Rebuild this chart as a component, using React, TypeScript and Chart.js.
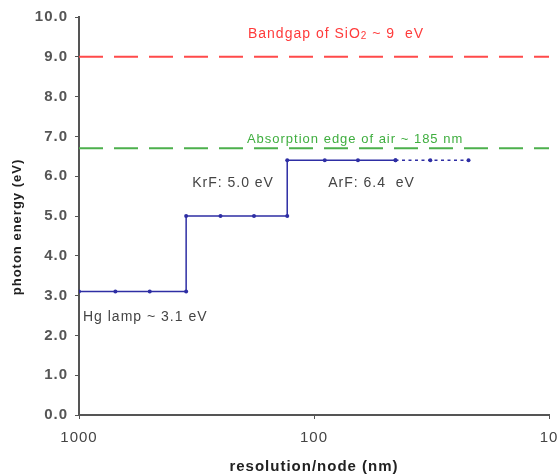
import React, { useEffect, useRef } from "react";
import { Chart, registerables } from "chart.js";

Chart.register(...registerables);

// ---- data ----
const hgNodes = [1000, 700, 500, 350];
const hgEnergy = 3.1;
const krfNodes = [350, 250, 180, 130];
const krfEnergy = 5.0;
const arfNodes = [130, 90, 65, 45];
const arfEnergy = 6.4;
const futureNodes = [45, 32, 22];
const sio2Bandgap = 9.0;
const airEdge = 6.7;
const lineSpan = [1000, 10];
const xTicks = [1000, 100, 10];

const FONT = "'Liberation Sans', Arial, sans-serif";

const stepData = [
  ...hgNodes.map((x) => ({ x, y: hgEnergy })),
  ...krfNodes.map((x) => ({ x, y: krfEnergy })),
  ...arfNodes.map((x) => ({ x, y: arfEnergy })),
];
const futureData = futureNodes.map((x) => ({ x, y: arfEnergy }));

const spacingPlugin = {
  id: "spacing",
  beforeDraw(chart: any) {
    chart.ctx.letterSpacing = "1px";
  },
  afterDraw(chart: any) {
    chart.ctx.letterSpacing = "0px";
  },
};

const labelsPlugin = {
  id: "labels",
  afterDatasetsDraw(chart: any) {
    const { ctx, scales } = chart;
    const xs = scales.x;
    const ys = scales.y;
    const P = (x: number, y: number) => [xs.getPixelForValue(x), ys.getPixelForValue(y)];
    ctx.save();
    ctx.letterSpacing = "1px";
    ctx.textBaseline = "middle";
    ctx.textAlign = "left";
    ctx.font = `14px ${FONT}`;

    // Bandgap of SiO2
    let [x, y] = P(191, 9.58);
    ctx.fillStyle = "#ff3b3b";
    const t1 = "Bandgap of SiO";
    ctx.fillText(t1, x, y);
    let w = ctx.measureText(t1).width;
    ctx.font = `10px ${FONT}`;
    ctx.fillText("2", x + w, y + 3);
    w += ctx.measureText("2").width;
    ctx.font = `14px ${FONT}`;
    ctx.fillText(" ~ 9  eV", x + w, y);

    // Absorption edge
    [x, y] = P(193, 6.93);
    ctx.font = `13px ${FONT}`;
    ctx.fillStyle = "#3fae3f";
    ctx.fillText("Absorption edge of air ~ 185 nm", x, y);

    ctx.font = `14px ${FONT}`;
    ctx.fillStyle = "#444";
    [x, y] = P(330, 5.83);
    ctx.fillText("KrF: 5.0 eV", x, y);
    [x, y] = P(87, 5.83);
    ctx.fillText("ArF: 6.4  eV", x, y);
    [x, y] = P(962, 2.46);
    ctx.fillText("Hg lamp ~ 3.1 eV", x, y);

    // y-axis title
    ctx.translate(17, 227);
    ctx.rotate(-Math.PI / 2);
    ctx.textAlign = "center";
    ctx.fillStyle = "#222";
    ctx.font = `bold 13px ${FONT}`;
    ctx.fillText("photon energy (eV)", 0, 0);
    ctx.restore();
  },
};

export default function App() {
  const ref = useRef<HTMLCanvasElement>(null);
  useEffect(() => {
    const chart = new Chart(ref.current!, {
      type: "line",
      data: {
        datasets: [
          {
            data: lineSpan.map((x) => ({ x, y: sio2Bandgap })),
            borderColor: "#ff4a4a",
            borderWidth: 2,
            borderDash: [24, 11],
            pointRadius: 0,
          },
          {
            data: lineSpan.map((x) => ({ x, y: airEdge })),
            borderColor: "#4cb04c",
            borderWidth: 2,
            borderDash: [24, 11],
            pointRadius: 0,
          },
          {
            data: stepData,
            borderColor: "#2e2ea4",
            backgroundColor: "#2e2ea4",
            borderWidth: 1.5,
            pointRadius: 2,
            pointBorderWidth: 0,
          },
          {
            data: futureData,
            borderColor: "#2e2ea4",
            backgroundColor: "#2e2ea4",
            borderWidth: 1.5,
            borderDash: [3, 3.5],
            pointRadius: 2,
            pointBorderWidth: 0,
          },
        ],
      },
      options: {
        animation: false,
        responsive: false,
        layout: { padding: { top: 17, right: 11, left: 0, bottom: 0 } },
        plugins: { legend: { display: false }, tooltip: { enabled: false } },
        scales: {
          x: {
            type: "logarithmic",
            min: 10,
            max: 1000,
            reverse: true,
            afterBuildTicks: (s: any) => {
              s.ticks = xTicks.map((v) => ({ value: v }));
            },
            afterFit: (s: any) => {
              s.height = 59;
              s.paddingLeft = 0;
              s.paddingRight = 0;
            },
            ticks: {
              callback: (v: any) => String(v),
              color: "#444",
              font: { family: FONT, size: 15 },
              padding: 10,
              maxRotation: 0,
              autoSkip: false,
            },
            grid: { drawOnChartArea: false, tickLength: 4, color: "#555" },
            border: { color: "#555", width: 2 },
            title: {
              display: true,
              text: "resolution/node (nm)",
              color: "#222",
              font: { family: FONT, size: 15, weight: "bold" },
              padding: { top: 0, bottom: -2 },
            },
          },
          y: {
            min: 0,
            max: 10,
            afterFit: (s: any) => {
              s.width = 79;
            },
            ticks: {
              stepSize: 1,
              callback: (v: any) => Number(v).toFixed(1),
              color: "#555",
              font: { family: FONT, size: 15, weight: "bold" },
              padding: 7,
            },
            grid: { drawOnChartArea: false, tickLength: 4, color: "#555" },
            border: { color: "#555", width: 2 },
          },
        },
      },
      plugins: [spacingPlugin, labelsPlugin],
    } as any);
    return () => chart.destroy();
  }, []);
  return (
    <div style={{ position: "fixed", left: 0, top: 0, width: 560, height: 474, background: "#fff" }}>
      <canvas ref={ref} width={560} height={474} />
    </div>
  );
}
